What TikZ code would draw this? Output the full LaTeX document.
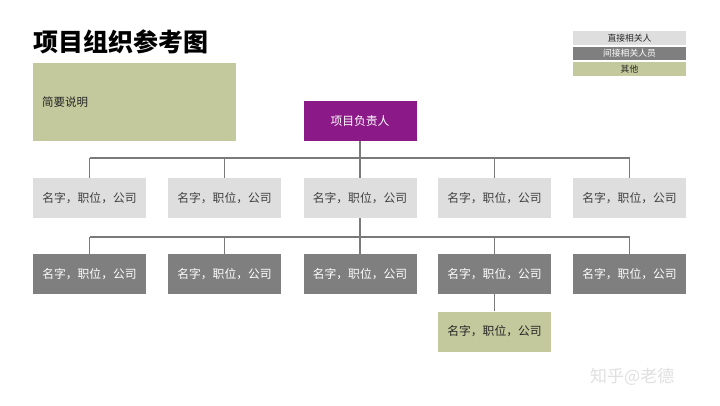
\documentclass[tikz,border=0pt]{standalone}
\usepackage{fontspec}
\setmainfont{Noto Sans CJK SC}
\newfontfamily\cjk{Noto Sans CJK SC}
\begin{document}
\begin{tikzpicture}[x=1pt,y=-1pt,
  every node/.style={font=\cjk},
  box/.style={minimum width=113pt,minimum height=40pt,inner sep=0pt,font=\cjk\fontsize{11.8}{13}\selectfont},
  lightbox/.style={box,fill=lightg,text=txtg},
  darkbox/.style={box,fill=darkg,text=white},
  greenbox/.style={box,fill=olive1,text=txtd},
  legbox/.style={minimum width=113pt,minimum height=13.5pt,inner sep=0pt,font=\cjk\fontsize{8.8}{9}\selectfont},
  conn/.style={draw=lineg,line width=1.1pt}]
\definecolor{lightg}{HTML}{DEDEDE}
\definecolor{darkg}{HTML}{7F7F7F}
\definecolor{olive1}{HTML}{C3C99C}
\definecolor{purp}{HTML}{8B1A88}
\definecolor{lineg}{HTML}{7A7A7A}
\definecolor{txtg}{HTML}{404040}
\definecolor{txtd}{HTML}{262626}
\useasboundingbox (0,0) rectangle (720,405);
\fill[white] (0,0) rectangle (720,405);

% title
\node[anchor=west,inner sep=0pt,font=\cjk\bfseries\fontsize{25}{28}\selectfont] (title) at (33,42) {项目组织参考图};
% summary box
\node[fill=olive1,minimum width=203pt,minimum height=78pt,inner sep=0pt] (summary) at (134.5,102) {};
\node[anchor=west,inner sep=0pt,font=\cjk\fontsize{11.5}{13}\selectfont,text=txtd] (summarytxt) at (42,102) {简要说明};

% legend
\node[legbox,fill=lightg,text=txtd] (leg1) at (629.5,38) {直接相关人};
\node[legbox,fill=darkg,text=white] (leg2) at (629.5,53.5) {间接相关人员};
\node[legbox,fill=olive1,text=txtd] (leg3) at (629.5,69) {其他};

% head
\node[box,fill=purp,text=white,minimum height=40pt] (head) at (360,121) {项目负责人};

% row 1
\foreach \i/\x in {1/89.5,2/224.5,3/360,4/494.5,5/629.5}{
  \node[lightbox] (a\i) at (\x,198) {名字，职位，公司};
}
% row 2
\foreach \i/\x in {1/89.5,2/224.5,3/360,4/494.5,5/629.5}{
  \node[darkbox] (b\i) at (\x,274) {名字，职位，公司};
}
% extra
\node[greenbox] (c1) at (494.5,331.5) {名字，职位，公司};

% connectors
\coordinate (h1) at (89.5,158);
\coordinate (h2) at (629.5,158);
\coordinate (hh) at (360,158);
\coordinate (k1) at (89.5,237);
\coordinate (k2) at (629.5,237);
\coordinate (kk) at (360,237);
\draw[conn] (h1) -- (h2);
\draw[conn] (head.south) -- (hh);
\foreach \i in {1,...,5}{
  \draw[conn] (a\i.north) -- (a\i.north |- h1);
}
\draw[conn] (k1) -- (k2);
\draw[conn] (a3.south) -- (kk);
\foreach \i in {1,...,5}{
  \draw[conn] (b\i.north) -- (b\i.north |- k1);
}
\draw[conn] (b4.south) -- (c1.north);

% watermark
\node[anchor=west,inner sep=0pt,text=black!12,font=\cjk\fontsize{17}{19}\selectfont] (wm) at (590,377) {知乎@老德};
\end{tikzpicture}
\end{document}
